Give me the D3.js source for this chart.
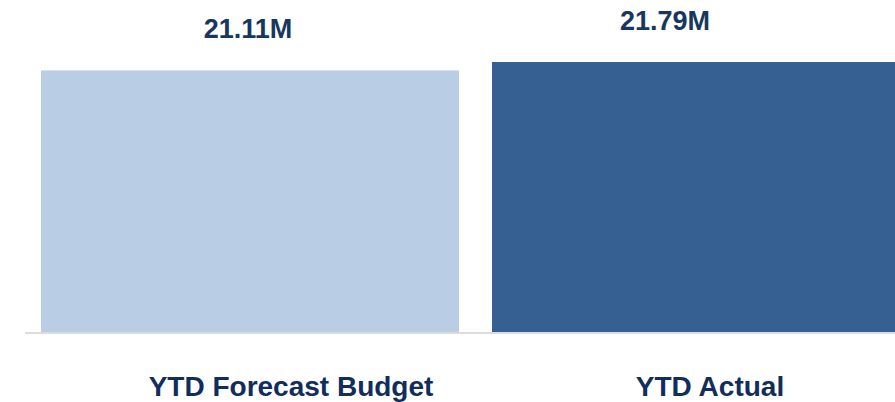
<!DOCTYPE html>
<html>
<head>
<meta charset="utf-8">
<script src="https://cdn.jsdelivr.net/npm/d3@7"></script>
<style>
  body { margin: 0; background: #fff; }
  svg { display: block; font-family: "Liberation Sans", Arial, sans-serif; }
</style>
</head>
<body>
<div id="chart"></div>
<script>
// data
const categories = ['YTD Forecast Budget', 'YTD Actual'];
const values = [21.11, 21.79];
const valueLabels = ['21.11M', '21.79M'];
const barColors = ['#B9CDE5', '#376092'];

const width = 895;
const height = 402;
const baseY = 332;

const svg = d3.select('#chart')
  .append('svg')
  .attr('width', width)
  .attr('height', height);

// bar band (second bar runs off the right edge, like the original)
const x = d3.scaleBand()
  .domain(categories)
  .range([41, 910])
  .paddingInner(0.0732)
  .paddingOuter(0);

const y = d3.scaleLinear()
  .domain([0, 21.79])
  .range([baseY, 62]);

// label positions
const valueX = d3.scalePoint().domain(categories).range([248, 665]);
const catX = d3.scalePoint().domain(categories).range([291, 710]);

svg.selectAll('rect.bar')
  .data(values)
  .enter()
  .append('rect')
  .attr('class', 'bar')
  .attr('x', (d, i) => x(categories[i]))
  .attr('width', x.bandwidth())
  .attr('y', d => y(d))
  .attr('height', d => baseY - y(d))
  .attr('fill', (d, i) => barColors[i]);

// baseline
svg.append('line')
  .attr('x1', 25)
  .attr('x2', width)
  .attr('y1', baseY + 1)
  .attr('y2', baseY + 1)
  .attr('stroke', '#dcdcdc')
  .attr('stroke-width', 2);

// value labels
svg.selectAll('text.value')
  .data(values)
  .enter()
  .append('text')
  .attr('class', 'value')
  .attr('x', (d, i) => valueX(categories[i]))
  .attr('y', d => y(d) - 32.5)
  .attr('text-anchor', 'middle')
  .attr('font-size', 27)
  .attr('font-weight', 'bold')
  .attr('fill', '#17375E')
  .text((d, i) => valueLabels[i]);

// category labels
svg.selectAll('text.cat')
  .data(categories)
  .enter()
  .append('text')
  .attr('class', 'cat')
  .attr('x', d => catX(d))
  .attr('y', 396)
  .attr('text-anchor', 'middle')
  .attr('font-size', 28)
  .attr('font-weight', 'bold')
  .attr('fill', '#112D5E')
  .text(d => d);
</script>
</body>
</html>
